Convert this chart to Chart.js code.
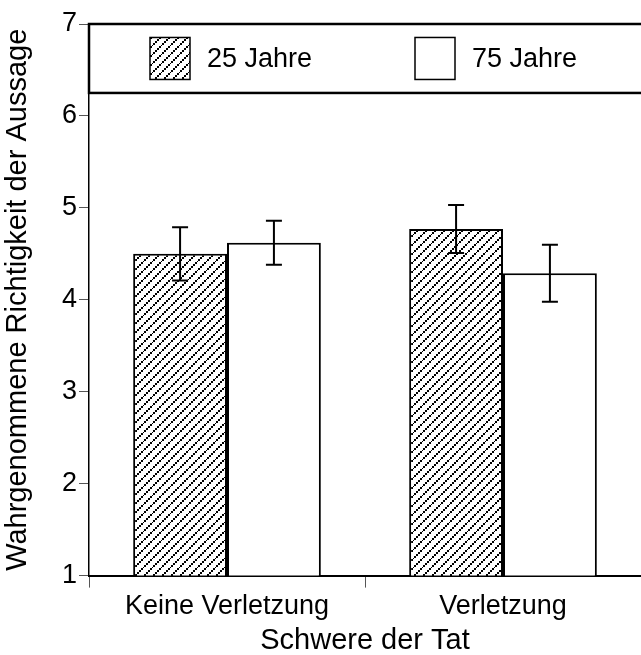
<!DOCTYPE html>
<html>
<head>
<meta charset="utf-8">
<script src="https://cdn.jsdelivr.net/npm/chart.js@4"></script>
<style>
  body { margin: 0; background: #fff; }
  #box { width: 641px; height: 655px; }
</style>
</head>
<body>
<div id="box"><canvas id="grafica"></canvas></div>
<script>
// Daten
const kategorien = ['Keine Verletzung', 'Verletzung'];
const serien = ['25 Jahre', '75 Jahre'];
const werte25 = [4.50, 4.77];
const werte75 = [4.62, 4.29];
const fehler25 = [0.29, 0.26];   // +/- Fehlerbalken
const fehler75 = [0.24, 0.31];
const yTicks = [1, 2, 3, 4, 5, 6, 7];

const schrift = "'Liberation Sans', Arial, sans-serif";
const groesse = 27;      // Ticks und Legende
const titelGroesse = 29; // Achsentitel

// Schraffur-Muster (gepunktete Diagonalen)
function schraffur() {
    const c = document.createElement('canvas');
    c.width = 9; c.height = 9;
    const k = c.getContext('2d');
    k.fillStyle = '#fff';
    k.fillRect(0, 0, 9, 9);
    k.fillStyle = '#000';
    k.fillRect(0, 7, 2, 2);
    k.fillRect(2, 5, 2, 2);
    k.fillRect(4, 3, 2, 2);
    k.fillRect(6, 1, 2, 2);
    k.fillRect(8, 0, 1, 1);
    return k.createPattern(c, 'repeat');
}
const muster = schraffur();

// Fehlerbalken
const fehlerPlugin = {
    id: 'fehler',
    afterDatasetsDraw(chart) {
        const ctx = chart.ctx;
        const y = chart.scales.y;
        const fehler = [fehler25, fehler75];
        ctx.save();
        ctx.strokeStyle = '#000';
        ctx.lineWidth = 2;
        chart.data.datasets.forEach((ds, d) => {
            chart.getDatasetMeta(d).data.forEach((bar, i) => {
                const v = ds.data[i];
                const oben = y.getPixelForValue(v + fehler[d][i]);
                const unten = y.getPixelForValue(v - fehler[d][i]);
                ctx.beginPath();
                ctx.moveTo(bar.x, oben); ctx.lineTo(bar.x, unten);
                ctx.moveTo(bar.x - 8, oben); ctx.lineTo(bar.x + 8, oben);
                ctx.moveTo(bar.x - 8, unten); ctx.lineTo(bar.x + 8, unten);
                ctx.stroke();
            });
        });
        ctx.restore();
    }
};

// Legende als Kasten oben im Diagramm
const legendePlugin = {
    id: 'legende',
    afterDraw(chart) {
        const ctx = chart.ctx;
        const a = chart.chartArea;
        const y = chart.scales.y;
        const top = y.getPixelForValue(7);
        const unten = y.getPixelForValue(6.25);
        ctx.save();
        ctx.fillStyle = '#fff';
        ctx.fillRect(a.left, top, chart.width - a.left + 2, unten - top);
        ctx.strokeStyle = '#000';
        ctx.lineWidth = 2.5;
        ctx.strokeRect(a.left, top, chart.width - a.left + 4, unten - top);
        const mitte = (top + unten) / 2;
        const pos = [150, 415];
        chart.data.datasets.forEach((ds, d) => {
            ctx.fillStyle = ds.backgroundColor;
            ctx.fillRect(pos[d], mitte - 21, 40, 42);
            ctx.lineWidth = 1.5;
            ctx.strokeRect(pos[d], mitte - 21, 40, 42);
            ctx.fillStyle = '#000';
            ctx.font = groesse + 'px ' + schrift;
            ctx.textBaseline = 'middle';
            ctx.fillText(ds.label, pos[d] + 57, mitte + 1);
        });
        ctx.restore();
    }
};

new Chart(document.getElementById('grafica').getContext('2d'), {
    type: 'bar',
    data: {
        labels: kategorien,
        datasets: [{
            label: serien[0],
            data: werte25,
            backgroundColor: muster,
            borderColor: '#000',
            borderWidth: 2
        }, {
            label: serien[1],
            data: werte75,
            backgroundColor: '#fff',
            borderColor: '#000',
            borderWidth: 2
        }]
    },
    options: {
        responsive: true,
        maintainAspectRatio: false,
        animation: false,
        categoryPercentage: 0.68,
        barPercentage: 1.0,
        layout: { padding: { top: 24, right: 0, left: 2, bottom: 0 } },
        plugins: {
            legend: { display: false },
            tooltip: { enabled: false }
        },
        scales: {
            x: {
                grid: { offset: true, drawOnChartArea: false, drawTicks: true, tickLength: 12, color: '#555', lineWidth: 1 },
                border: { color: '#000', width: 2 },
                ticks: { color: '#000', font: { family: schrift, size: groesse }, padding: 3 },
                title: { display: true, text: 'Schwere der Tat', color: '#000', font: { family: schrift, size: titelGroesse, lineHeight: 1.0 }, padding: { top: 0, bottom: 0 } }
            },
            y: {
                min: 1,
                max: 7,
                afterBuildTicks(ax) { ax.ticks = yTicks.map(v => ({ value: v })); },
                afterFit(ax) { ax.width = 87; },
                grid: { drawOnChartArea: false, drawTicks: true, tickLength: 10, color: '#555', lineWidth: 1 },
                border: { color: '#000', width: 1.5 },
                ticks: { color: '#000', font: { family: schrift, size: groesse }, padding: 2 },
                title: { display: true, text: 'Wahrgenommene Richtigkeit der Aussage', color: '#000', font: { family: schrift, size: titelGroesse, lineHeight: 1.1 }, padding: { top: 0, bottom: 0 } }
            }
        }
    },
    plugins: [fehlerPlugin, legendePlugin]
});
</script>
</body>
</html>
